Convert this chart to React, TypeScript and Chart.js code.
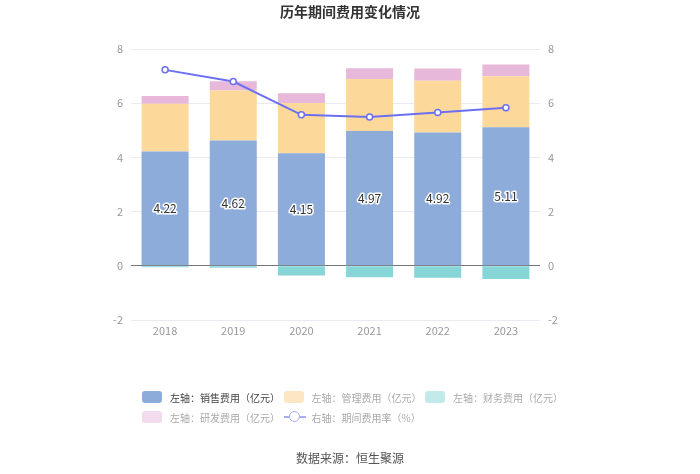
import React, { useEffect, useRef } from 'react';
import Chart from 'chart.js/auto';

const FONT = '"Noto Sans CJK SC", "Noto Sans", sans-serif';

const years = ['2018', '2019', '2020', '2021', '2022', '2023'];
const salesExp = [4.22, 4.62, 4.15, 4.97, 4.92, 5.11];
const mgmtExp = [1.76, 1.85, 1.86, 1.92, 1.91, 1.88];
const financeExp = [-0.05, -0.07, -0.36, -0.42, -0.44, -0.49];
const rdExp = [0.29, 0.34, 0.36, 0.4, 0.45, 0.44];
const expenseRate = [7.23, 6.8, 5.57, 5.49, 5.66, 5.83];

const legendItems = [
  { label: '左轴：销售费用（亿元）', color: '#8eacd9', text: '#444', kind: 'box' },
  { label: '左轴：管理费用（亿元）', color: '#fde6c4', text: '#aaa', kind: 'box' },
  { label: '左轴：财务费用（亿元）', color: '#c3eaeb', text: '#aaa', kind: 'box' },
  { label: '左轴：研发费用（亿元）', color: '#f3dbee', text: '#aaa', kind: 'box' },
  { label: '右轴：期间费用率（%）', color: '#a9acf7', text: '#aaa', kind: 'line' },
];

const barLabels = {
  id: 'barLabels',
  afterDatasetsDraw(chart: any) {
    const ctx = chart.ctx;
    const meta = chart.getDatasetMeta(0);
    ctx.save();
    ctx.font = `12px ${FONT}`;
    ctx.textAlign = 'center';
    ctx.textBaseline = 'middle';
    ctx.lineJoin = 'round';
    meta.data.forEach((bar: any, i: number) => {
      const y = (bar.y + bar.base) / 2;
      const txt = salesExp[i].toFixed(2);
      ctx.strokeStyle = '#fff';
      ctx.lineWidth = 3;
      ctx.strokeText(txt, bar.x, y);
      ctx.fillStyle = '#333';
      ctx.fillText(txt, bar.x, y);
    });
    ctx.restore();
  },
};

const ExpenseChart = () => {
  const canvasDom = useRef<HTMLCanvasElement>(null);
  useEffect(() => {
    if (!canvasDom.current) {
      return;
    }
    const barCommon = { type: 'bar' as const, yAxisID: 'y', order: 1, stack: 's', borderWidth: 0 };
    const myChart = new Chart(canvasDom.current, {
      type: 'bar',
      data: {
        labels: years,
        datasets: [
          { ...barCommon, label: '销售费用', data: salesExp, backgroundColor: '#8eacd9' },
          { ...barCommon, label: '管理费用', data: mgmtExp, backgroundColor: '#fdd89b' },
          { ...barCommon, label: '财务费用', data: financeExp, backgroundColor: '#86d6d8' },
          { ...barCommon, label: '研发费用', data: rdExp, backgroundColor: '#e7b8d9' },
          {
            type: 'line',
            label: '期间费用率',
            data: expenseRate,
            yAxisID: 'y1',
            order: 0,
            borderColor: '#6b70f2',
            borderWidth: 2,
            backgroundColor: '#fff',
            pointRadius: 3,
            pointBorderWidth: 1.5,
            pointBackgroundColor: '#fff',
            pointBorderColor: '#6b70f2',
            tension: 0,
          } as any,
        ],
      },
      options: {
        responsive: false,
        animation: false,
        layout: { padding: { left: 0, right: 0, top: 49, bottom: 124 } },
        plugins: {
          legend: { display: false },
          title: { display: false },
          tooltip: { enabled: false },
        },
        datasets: { bar: { categoryPercentage: 0.69, barPercentage: 1 } },
        scales: {
          x: {
            stacked: true,
            grid: { display: false, drawTicks: false },
            border: { display: false },
            ticks: { color: '#999', font: { size: 11, family: FONT }, padding: 4 },
            afterFit: (s: any) => {
              s.height = 30;
            },
          },
          y: {
            stacked: true,
            position: 'left',
            min: -2,
            max: 8,
            ticks: { stepSize: 2, color: '#999', font: { size: 11, family: FONT }, padding: 8 },
            grid: {
              drawTicks: false,
              color: (c: any) => (c.tick && c.tick.value === 0 ? '#777' : '#e8ebf3'),
            },
            border: { display: false },
            afterFit: (s: any) => {
              s.width = 131;
            },
          },
          y1: {
            stacked: false,
            position: 'right',
            min: -2,
            max: 8,
            ticks: { stepSize: 2, color: '#999', font: { size: 11, family: FONT }, padding: 8 },
            grid: { display: false, drawTicks: false },
            border: { display: false },
            afterFit: (s: any) => {
              s.width = 160;
            },
          },
        },
      },
      plugins: [barLabels],
    } as any);

    return () => {
      myChart.destroy();
    };
  }, []);

  return <canvas ref={canvasDom} width={700} height={474} style={{ position: 'absolute', left: 0, top: 0 }}></canvas>;
};

const App = () => {
  return (
    <div style={{ position: 'fixed', left: 0, top: 0, width: 700, height: 474, background: '#fff', fontFamily: FONT }}>
      <ExpenseChart />
      <div
        style={{
          position: 'absolute',
          top: 1,
          left: 0,
          width: 700,
          textAlign: 'center',
          fontSize: 14,
          fontWeight: 'bold',
          color: '#333',
          lineHeight: '20px',
        }}
      >
        历年期间费用变化情况
      </div>
      <div style={{ position: 'absolute', left: 142, top: 387, width: 430, display: 'flex', flexWrap: 'wrap' }}>
        {legendItems.map((it) => (
          <div
            key={it.label}
            style={{ width: 141.5, height: 20, display: 'flex', alignItems: 'center', fontSize: 10, color: it.text, whiteSpace: 'nowrap' }}
          >
            {it.kind === 'box' ? (
              <span style={{ display: 'inline-block', flex: 'none', width: 20, height: 12, borderRadius: 3, background: it.color, marginRight: 8 }} />
            ) : (
              <span style={{ position: 'relative', display: 'inline-block', flex: 'none', width: 22, height: 12, marginRight: 6 }}>
                <span style={{ position: 'absolute', left: 0, top: 5, width: 22, height: 1.5, background: it.color }} />
                <span
                  style={{
                    position: 'absolute',
                    left: 5,
                    top: 0,
                    width: 9,
                    height: 9,
                    borderRadius: '50%',
                    border: `1.5px solid ${it.color}`,
                    background: '#fff',
                  }}
                />
              </span>
            )}
            {it.label}
          </div>
        ))}
      </div>
      <div style={{ position: 'absolute', top: 449, left: 0, width: 700, textAlign: 'center', fontSize: 12, color: '#555' }}>
        数据来源：恒生聚源
      </div>
    </div>
  );
};

export default App;
